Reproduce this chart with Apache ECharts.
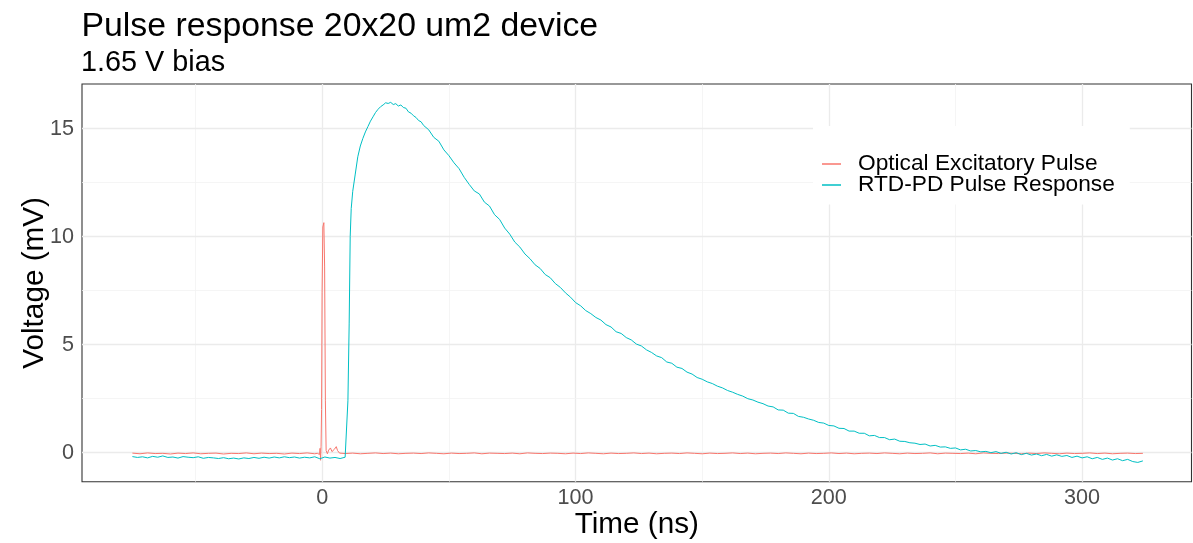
<!DOCTYPE html>
<html>
<head>
<meta charset="utf-8">
<script src="https://cdn.jsdelivr.net/npm/echarts@6/dist/echarts.min.js"></script>
<style>
html, body { margin: 0; padding: 0; background: #fff; }
#chart { width: 1193px; height: 543px; }
</style>
</head>
<body>
<div id="chart"></div>
<script>
// optical excitatory pulse (ns, mV)
var pulseTime = [-75,-72,-69,-66,-63,-60,-57,-54,-51,-48,-45,-42,-39,-36,-33,-30,-27,-24,-21,-18,-15,-12,-9,-6,-3,
	-2,-1.4,-1.1,-0.9,-0.7,-0.5,-0.3,-0.1,0.2,0.6,0.9,1.2,1.5,2.0,2.5,3.2,3.8,4.7,5.5,6.0,6.8,7.5,
	9,12,15,18,21,24,27,30,33,36,39,42,45,48,51,54,57,60,63,66,69,72,75,78,81,84,87,90,93,96,99,102,105,108,
	111,114,117,120,123,126,129,132,135,138,141,144,147,150,153,156,159,162,165,168,171,174,177,180,183,186,189,192,195,198,
	201,204,207,210,213,216,219,222,225,228,231,234,237,240,243,246,249,252,255,258,261,264,267,270,273,276,279,282,285,288,
	291,294,297,300,303,306,309,312,315,318,321,324];
var pulseVolt = [-0.02,-0.05,-0.01,-0.04,-0.03,-0.06,-0.02,-0.04,-0.01,-0.05,-0.03,-0.02,-0.06,-0.03,-0.04,-0.01,-0.05,-0.02,-0.04,-0.03,-0.06,-0.02,-0.04,-0.01,-0.05,
	-0.03,0.05,-0.08,0.2,-0.35,0.3,2.0,7.4,10.45,10.65,8.6,2.4,0.1,-0.05,0.12,0.22,0.05,0.15,0.28,0.1,-0.02,0.02,
	-0.04,-0.02,-0.05,-0.03,-0.01,-0.04,-0.02,-0.05,-0.03,-0.02,
	-0.04,-0.01,-0.03,-0.05,-0.02,-0.04,-0.03,-0.01,-0.05,-0.02,
	-0.03,-0.04,-0.02,-0.05,-0.01,-0.03,-0.04,-0.02,-0.03,-0.05,
	-0.02,-0.04,-0.01,-0.03,-0.05,-0.02,-0.04,-0.03,-0.01,-0.04,
	-0.02,-0.05,-0.03,-0.02,-0.04,-0.01,-0.03,-0.05,-0.02,-0.04,
	-0.03,-0.01,-0.04,-0.02,-0.05,-0.03,-0.02,-0.04,-0.01,-0.03,
	-0.05,-0.02,-0.04,-0.03,-0.01,-0.04,-0.02,-0.05,-0.03,-0.02,
	-0.04,-0.01,-0.03,-0.05,-0.02,-0.04,-0.03,-0.01,-0.05,-0.02,
	-0.03,-0.04,-0.02,-0.05,-0.01,-0.03,-0.04,-0.02,-0.03,-0.05,
	-0.02,-0.04,-0.01,-0.03,-0.05,-0.02,-0.04,-0.03,-0.01,-0.04,
	-0.02,-0.05,-0.03,-0.02,-0.04,-0.03];

// RTD-PD pulse response (ns, mV)
var respTime = [-75,-73,-71,-69,-67,-65,-63,-61,-59,-57,-55,-53,-51,-49,-47,-45,-43,-41,-39,-37,-35,-33,-31,-29,-27,-25,-23,-21,-19,-17,-15,-13,-11,-9,-7,-5,-3,-1,1,3,5,7,9,
	9.7,10.1,10.6,11.0,11.4,12,13,14,15,16,17,18,19,20,21,22,23,24,25,26,27,28,29,30,31,32,33,34,35,36,37,38,39,
	40,42,44,46,48,50,52,54,56,58,60,62,64,66,68,70,72,74,76,78,80,82,84,86,88,90,92,94,96,98,
	100,102,104,106,108,110,112,114,116,118,120,122,124,126,128,130,132,134,136,138,140,142,144,146,148,
	150,152,154,156,158,160,162,164,166,168,170,172,174,176,178,180,182,184,186,188,190,192,194,196,198,
	200,202,204,206,208,210,212,214,216,218,220,222,224,226,228,230,232,234,236,238,240,242,244,246,248,
	250,252,254,256,258,260,262,264,266,268,270,272,274,276,278,280,282,284,286,288,290,292,294,296,298,
	300,302,304,306,308,310,312,314,316,318,320,322,324];
var respVolt = [-0.18,-0.22,-0.19,-0.24,-0.17,-0.21,-0.15,-0.22,-0.2,-0.25,-0.18,-0.21,-0.23,-0.19,-0.26,-0.22,-0.24,-0.27,-0.23,-0.28,-0.25,-0.29,-0.24,-0.27,-0.22,-0.26,-0.21,-0.25,-0.2,-0.24,-0.19,-0.23,-0.2,-0.25,-0.21,-0.24,-0.19,-0.28,-0.2,-0.25,-0.22,-0.27,-0.21,
	-0.2,2.4,6.0,10.0,11.3,12.1,12.9,13.7,14.2,14.55,14.85,15.1,15.35,15.55,15.75,15.9,16.02,16.1,16.2,16.17,16.22,16.12,16.16,16.05,16.1,15.98,15.95,15.78,15.72,15.6,15.52,15.38,15.32,
	15.15,14.95,14.6,14.42,14.02,13.75,13.42,13.15,12.75,12.42,12.12,11.98,11.6,11.42,11.02,10.8,10.4,10.12,9.75,9.52,9.2,8.98,8.7,8.53,8.25,8.1,7.83,7.65,7.4,7.2,
	6.95,6.8,6.58,6.44,6.26,6.14,5.93,5.82,5.6,5.52,5.33,5.22,5.03,4.94,4.76,4.64,4.48,4.4,4.2,4.14,3.96,3.9,3.73,3.64,3.48,
	3.4,3.28,3.2,3.08,3.0,2.88,2.8,2.7,2.62,2.5,2.44,2.34,2.27,2.16,2.12,1.98,1.97,1.83,1.82,1.68,1.64,1.56,1.5,1.4,1.37,
	1.26,1.24,1.13,1.12,1.0,1.0,0.9,0.9,0.78,0.8,0.7,0.7,0.6,0.63,0.53,0.52,0.46,0.44,0.38,0.4,0.31,0.34,0.26,0.27,0.2,
	0.22,0.13,0.16,0.08,0.1,0.04,0.06,0.0,0.05,-0.03,0.02,-0.06,-0.0,-0.09,-0.03,-0.11,-0.06,-0.14,-0.08,-0.16,-0.1,-0.17,-0.13,-0.22,-0.16,
	-0.24,-0.19,-0.28,-0.22,-0.31,-0.25,-0.34,-0.28,-0.37,-0.31,-0.41,-0.45,-0.38];

// axis breaks
var xMajor = [0, 100, 200, 300];
var xMinor = [-50, 50, 150, 250];
var yMajor = [0, 5, 10, 15];
var yMinor = [2.5, 7.5, 12.5];

function zip(a, b) {
	var out = [];
	for (var i = 0; i < a.length; i++) out.push([a[i], b[i]]);
	return out;
}

var font = "'Liberation Sans', Arial, sans-serif";
var gridLines = [];
xMajor.forEach(function (v) { gridLines.push({ xAxis: v, lineStyle: { color: '#ebebeb', width: 1.3, type: 'solid' } }); });
xMinor.forEach(function (v) { gridLines.push({ xAxis: v, lineStyle: { color: '#f2f2f2', width: 0.8, type: 'solid' } }); });
yMajor.forEach(function (v) { gridLines.push({ yAxis: v, lineStyle: { color: '#ebebeb', width: 1.3, type: 'solid' } }); });
yMinor.forEach(function (v) { gridLines.push({ yAxis: v, lineStyle: { color: '#f2f2f2', width: 0.8, type: 'solid' } }); });

var chart = echarts.init(document.getElementById('chart'));
var option = {
	animation: false,
	title: [
		{ text: 'Pulse response 20x20 um2 device', left: 81.5, top: 10, padding: 0,
			textStyle: { fontSize: 33.8, fontWeight: 'normal', color: '#000', fontFamily: font } },
		{ text: '1.65 V bias', left: 81, top: 49, padding: 0,
			textStyle: { fontSize: 28.8, fontWeight: 'normal', color: '#000', fontFamily: font } }
	],
	legend: {
		orient: 'vertical',
		left: 813,
		top: 126,
		backgroundColor: '#fff',
		padding: [26.5, 15, 8, 9],
		itemGap: -2,
		itemWidth: 19,
		itemHeight: 1.5,
		icon: 'rect',
		textStyle: { fontSize: 22.7, fontFamily: font, color: '#000', lineHeight: 21, padding: [0, 0, 0, 12] },
		data: ['Optical Excitatory Pulse', 'RTD-PD Pulse Response']
	},
	grid: {
		left: 82, top: 84, right: 1.5, bottom: 61.3,
		outerBoundsMode: 'none', containLabel: false,
		show: true, borderColor: '#333333', borderWidth: 1.1, backgroundColor: '#fff'
	},
	xAxis: {
		type: 'value',
		min: -94.9, max: 343.2,
		name: 'Time (ns)', nameLocation: 'middle', nameGap: 28, nameMoveOverlap: false,
		nameTextStyle: { fontSize: 29.7, color: '#000', fontFamily: font },
		axisLine: { show: false },
		axisTick: { show: true, length: 4, customValues: xMajor, lineStyle: { color: '#333333' } },
		axisLabel: { customValues: xMajor, margin: 5, fontSize: 21.6, color: '#4d4d4d', fontFamily: font },
		splitLine: { show: false }
	},
	yAxis: {
		type: 'value',
		min: -1.343, max: 17.07,
		name: 'Voltage (mV)', nameLocation: 'middle', nameGap: 32, nameMoveOverlap: false,
		nameTextStyle: { fontSize: 29.7, color: '#000', fontFamily: font },
		axisLine: { show: false },
		axisTick: { show: true, length: 4, customValues: yMajor, lineStyle: { color: '#333333' } },
		axisLabel: { customValues: yMajor, margin: 8, fontSize: 21.6, color: '#4d4d4d', fontFamily: font },
		splitLine: { show: false }
	},
	series: [
		{
			name: 'grid', type: 'line', data: [], silent: true,
			markLine: { silent: true, symbol: 'none', z: 1, label: { show: false }, data: gridLines }
		},
		{
			name: 'Optical Excitatory Pulse', type: 'line', symbol: 'none', z: 3,
			data: zip(pulseTime, pulseVolt),
			lineStyle: { color: '#F8766D', width: 1 }, itemStyle: { color: '#F8766D' }
		},
		{
			name: 'RTD-PD Pulse Response', type: 'line', symbol: 'none', z: 4,
			data: zip(respTime, respVolt),
			lineStyle: { color: '#00BFC4', width: 1 }, itemStyle: { color: '#00BFC4' }
		}
	]
};
chart.setOption(option);
</script>
</body>
</html>
